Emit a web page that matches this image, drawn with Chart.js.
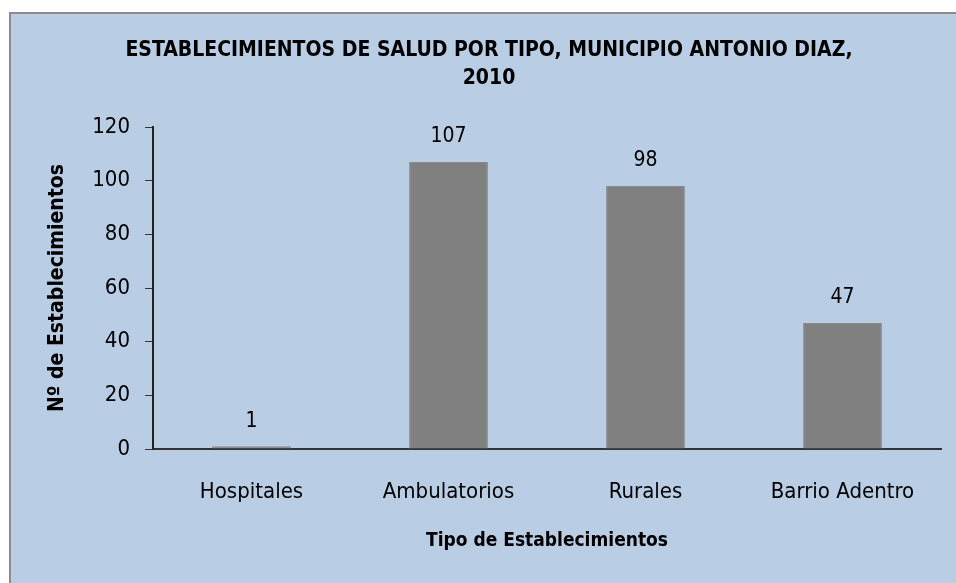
<!DOCTYPE html>
<html>
<head>
<meta charset="utf-8">
<script src="https://cdn.jsdelivr.net/npm/chart.js@4"></script>
<style>
  html, body { margin: 0; padding: 0; background: #fff; }
  #frame {
    position: absolute; left: 9px; top: 12px; width: 960px; height: 590px;
    background: #b9cde5; border-left: 2px solid #8c8c8c; border-top: 2px solid #8c8c8c;
  }
  #wrap { position: absolute; left: 0; top: 0; width: 956px; height: 583px; }
</style>
</head>
<body>
<div id="frame"></div>
<div id="wrap"><canvas id="chart" width="956" height="583"></canvas></div>
<script>
// datos del gráfico
const categorias = ['Hospitales', 'Ambulatorios', 'Rurales', 'Barrio Adentro'];
const valores = [1, 107, 98, 47];
const ticksY = [0, 20, 40, 60, 80, 100, 120];
const titulo = ['ESTABLECIMIENTOS DE SALUD POR TIPO, MUNICIPIO ANTONIO DIAZ,', '2010'];

const fuente = '"DejaVu Sans Condensed", "Liberation Sans", Arial, sans-serif';
Chart.defaults.font.family = fuente;
Chart.defaults.color = '#000';

// título y etiquetas de valor
const textos = {
  id: 'textos',
  afterDatasetsDraw(chart) {
    const ctx = chart.ctx;
    const meta = chart.getDatasetMeta(0);
    ctx.save();
    ctx.fillStyle = '#000';
    ctx.textAlign = 'center';
    ctx.textBaseline = 'middle';
    ctx.font = '21px ' + fuente;
    meta.data.forEach((bar, i) => {
      ctx.fillText(valores[i], bar.x, bar.y - 25);
    });
    ctx.font = 'bold 21px ' + fuente;
    titulo.forEach((t, i) => ctx.fillText(t, 489, 51 + i * 28));
    ctx.restore();
  }
};

new Chart(document.getElementById('chart').getContext('2d'), {
  type: 'bar',
  data: {
    labels: categorias,
    datasets: [{
      data: valores,
      backgroundColor: '#808080',
      borderColor: '#8a8a8a',
      borderWidth: 1,
      categoryPercentage: 1,
      barPercentage: 0.4
    }]
  },
  options: {
    responsive: false,
    animation: false,
    layout: { padding: { left: 9, right: 15, top: 127, bottom: 0 } },
    plugins: {
      legend: { display: false },
      tooltip: { enabled: false },
      title: { display: false }
    },
    scales: {
      x: {
        afterFit(scale) { scale.height = 134; },
        grid: { display: false, drawTicks: false },
        border: { display: true, color: '#333', width: 2 },
        ticks: { font: { size: 22 }, padding: 30 },
        title: {
          display: true, text: 'Tipo de Establecimientos',
          font: { size: 19, weight: 'bold' }, padding: { top: 0, bottom: 31 }
        }
      },
      y: {
        min: 0, max: 120,
        afterFit(scale) { scale.width = 144; },
        afterBuildTicks(scale) { scale.ticks = ticksY.map(v => ({ value: v })); },
        grid: { drawOnChartArea: false, drawTicks: true, tickLength: 8, color: '#333' },
        border: { display: true, color: '#222', width: 2 },
        ticks: { font: { size: 22 }, padding: 15 },
        title: {
          display: true, text: 'Nº de Establecimientos',
          font: { size: 21, weight: 'bold' }, padding: { top: 36, bottom: 0 }
        }
      }
    }
  },
  plugins: [textos]
});
</script>
</body>
</html>
